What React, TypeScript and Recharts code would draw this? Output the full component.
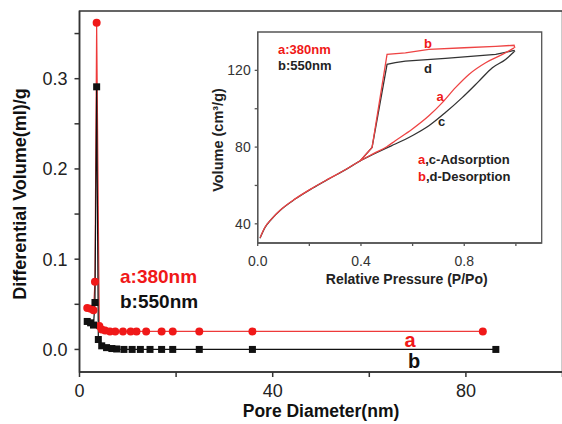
import React from 'react';
import { LineChart, Line, XAxis, YAxis, ReferenceArea } from 'recharts';

// Main chart: pore size distribution
const poreA_x = [1.6, 2.3, 2.9, 3.2, 3.55, 4.1, 4.6, 5.3, 6.3, 7.4, 9.0, 10.6, 11.8, 13.8, 17.0, 19.3, 24.8, 35.8, 83.5];
const poreA_y = [0.046, 0.045, 0.0435, 0.075, 0.362, 0.026, 0.022, 0.021, 0.02, 0.02, 0.02, 0.02, 0.02, 0.02, 0.02, 0.02, 0.02, 0.02, 0.02];
const poreB_x = [1.6, 2.3, 2.9, 3.2, 3.55, 3.9, 4.6, 5.6, 6.7, 7.7, 9.2, 10.9, 12.6, 14.6, 17.0, 19.3, 24.8, 35.8, 86.2];
const poreB_y = [0.031, 0.0295, 0.027, 0.052, 0.291, 0.011, 0.004, 0.002, 0.001, 0.0005, 0, 0, 0, 0, 0, 0, 0, 0, 0];

const mainXTicks = [0, 20, 40, 60, 80, 100];
const mainXLabels = [0, 40, 80];
const mainYTicks = [0, 0.05, 0.1, 0.15, 0.2, 0.25, 0.3, 0.35];
const mainYLabels = [0, 0.1, 0.2, 0.3];

// Inset: N2 isotherms
const adsA_x = [0.009, 0.028, 0.054, 0.093, 0.145, 0.21, 0.274, 0.339, 0.397, 0.45, 0.5, 0.533, 0.598, 0.663, 0.715, 0.766, 0.818, 0.883, 0.948, 0.993];
const adsA_y = [32.7, 38.2, 42.6, 47.8, 53, 58.5, 63.4, 68.2, 72.9, 76.7, 80.2, 83.3, 89.3, 96.3, 103.2, 111, 117.9, 124, 128.3, 131.7];
const adsC_x = [0.009, 0.028, 0.054, 0.093, 0.145, 0.21, 0.274, 0.339, 0.397, 0.45, 0.5, 0.533, 0.598, 0.663, 0.727, 0.792, 0.857, 0.909, 0.96, 0.993];
const adsC_y = [32.5, 38.0, 42.5, 47.7, 52.9, 58.4, 63.3, 68.1, 72.8, 76.4, 79.6, 81.6, 85.9, 91.1, 98, 105.8, 114.4, 121.4, 125.7, 129.7];
const desB_x = [0.397, 0.443, 0.501, 0.572, 0.663, 0.8, 0.922, 0.993, 0.996];
const desB_y = [72.9, 79.8, 128.3, 129.1, 130.9, 131.8, 132.5, 133.1, 131.7];
const desD_x = [0.397, 0.443, 0.501, 0.533, 0.572, 0.727, 0.922, 0.993, 0.996];
const desD_y = [72.8, 79.8, 123.1, 124, 124.8, 126.2, 128.3, 130.4, 129.7];

const insetXTicks = [0, 0.2, 0.4, 0.6, 0.8, 1.0];
const insetXLabels = [0, 0.4, 0.8];
const insetYTicks = [40, 60, 80, 100, 120];
const insetYLabels = [40, 80, 120];

const zip = (xs: number[], ys: number[]) => xs.map((x, i) => ({ x, y: ys[i] }));

const dataA = zip(poreA_x, poreA_y);
const dataB = zip(poreB_x, poreB_y);
const dA = zip(adsA_x, adsA_y);
const dC = zip(adsC_x, adsC_y);
const dB = zip(desB_x, desB_y);
const dD = zip(desD_x, desD_y);

const RED = '#f01818';
const RED_LINE = '#ee3a3a';
const BLACK = '#111111';
const FONT = '"Liberation Sans", Arial, sans-serif';

const near = (arr: number[], v: number) => arr.some((a) => Math.abs(a - v) < 1e-9);

const circleDot = (props: any) => {
  const { cx, cy, index } = props;
  if (cx == null || cy == null) return <g key={`c${index}`} />;
  return <circle key={`c${index}`} cx={cx} cy={cy} r={4} fill={RED} stroke="none" />;
};
const squareDot = (props: any) => {
  const { cx, cy, index } = props;
  if (cx == null || cy == null) return <g key={`s${index}`} />;
  return <rect key={`s${index}`} x={cx - 3.5} y={cy - 3.5} width={7} height={7} fill={BLACK} stroke="none" />;
};

export default function App() {
  return (
    <div style={{ position: 'absolute', left: 0, top: 0, width: 562, height: 424, overflow: 'hidden', background: '#fff', fontFamily: FONT }}>
      <div style={{ position: 'absolute', left: 0, top: 0 }}>
        <LineChart width={566} height={424} margin={{ top: 11, right: 3.5, left: 19.5, bottom: 22 }}>
          <XAxis
            dataKey="x"
            type="number"
            domain={[0, 100]}
            ticks={mainXTicks}
            allowDataOverflow
            tickFormatter={(v: number) => (near(mainXLabels, v) ? String(v) : '')}
            height={30}
            tickSize={5}
            tickMargin={7}
            stroke="#333"
            strokeWidth={1.5}
            tick={{ fill: '#222', fontSize: 18, fontFamily: FONT }}
          />
          <YAxis
            dataKey="y"
            type="number"
            domain={[-0.025, 0.375]}
            ticks={mainYTicks}
            allowDataOverflow
            tickFormatter={(v: number) => (near(mainYLabels, v) ? v.toFixed(1) : '')}
            width={60}
            tickSize={5}
            tickMargin={7}
            stroke="#333"
            strokeWidth={1.5}
            tick={{ fill: '#222', fontSize: 18, fontFamily: FONT }}
          />
          <ReferenceArea x1={0} x2={100} y1={-0.025} y2={0.375} fill="none" stroke="#333" strokeWidth={1.5} />
          <Line data={dataA} dataKey="y" type="linear" stroke={RED_LINE} strokeWidth={1.2} dot={circleDot} isAnimationActive={false} />
          <Line data={dataB} dataKey="y" type="linear" stroke={BLACK} strokeWidth={1.2} dot={squareDot} isAnimationActive={false} />
        </LineChart>
      </div>

      <div style={{ position: 'absolute', left: 200, top: 20, width: 345, height: 270, background: '#fff' }}>
        <LineChart width={345} height={270} margin={{ top: 12, right: 3.3, left: 12.7, bottom: 22 }}>
          <XAxis
            dataKey="x"
            type="number"
            domain={[0, 1.1]}
            ticks={insetXTicks}
            allowDataOverflow
            tickFormatter={(v: number) => (near(insetXLabels, v) ? v.toFixed(1) : '')}
            height={25}
            tickSize={3}
            tickMargin={10}
            stroke="#555"
            strokeWidth={1.3}
            tick={{ fill: '#333', fontSize: 14, fontFamily: FONT }}
          />
          <YAxis
            dataKey="y"
            type="number"
            domain={[30, 140]}
            ticks={insetYTicks}
            allowDataOverflow
            tickFormatter={(v: number) => (near(insetYLabels, v) ? String(v) : '')}
            width={45}
            tickSize={3}
            tickMargin={4}
            stroke="#555"
            strokeWidth={1.3}
            tick={{ fill: '#333', fontSize: 14, fontFamily: FONT }}
          />
          <ReferenceArea x1={0} x2={1.1} y1={30} y2={140} fill="none" stroke="#555" strokeWidth={1.3} />
          <Line data={dC} dataKey="y" type="monotone" stroke="#333" strokeWidth={1.3} dot={false} isAnimationActive={false} />
          <Line data={dD} dataKey="y" type="linear" stroke="#333" strokeWidth={1.3} dot={false} isAnimationActive={false} />
          <Line data={dA} dataKey="y" type="monotone" stroke="#ee4444" strokeWidth={1.3} dot={false} isAnimationActive={false} />
          <Line data={dB} dataKey="y" type="linear" stroke="#ee4444" strokeWidth={1.3} dot={false} isAnimationActive={false} />
        </LineChart>
      </div>

      <svg width={562} height={424} style={{ position: 'absolute', left: 0, top: 0, pointerEvents: 'none' }} fontFamily={FONT} fontWeight="bold">
        {/* main axis titles */}
        <text transform="translate(20,194) rotate(-90)" textAnchor="middle" dominantBaseline="central" fontSize={18} fill="#111">
          Differential Volume(ml)/g
        </text>
        <text x={321} y={417} textAnchor="middle" fontSize={17.5} fill="#111">Pore Diameter(nm)</text>
        {/* main legend */}
        <text x={120} y={283} fontSize={19} fill={RED}>a:380nm</text>
        <text x={120} y={308} fontSize={19} fill="#111">b:550nm</text>
        <text x={410} y={347} textAnchor="middle" fontSize={20} fill={RED}>a</text>
        <text x={414} y={368} textAnchor="middle" fontSize={20} fill="#111">b</text>

        {/* inset texts */}
        <text x={278} y={54} fontSize={13} fill={RED}>a:380nm</text>
        <text x={278} y={70} fontSize={13} fill="#222">b:550nm</text>
        <text x={428} y={47.5} textAnchor="middle" fontSize={13} fill={RED}>b</text>
        <text x={428} y={73} textAnchor="middle" fontSize={13} fill="#222">d</text>
        <text x={440} y={101} textAnchor="middle" fontSize={13} fill={RED}>a</text>
        <text x={441.5} y={126} textAnchor="middle" fontSize={13} fill="#222">c</text>
        <text x={418} y={164} fontSize={13} fill="#222">
          <tspan fill={RED}>a</tspan>,c-Adsorption
        </text>
        <text x={418} y={181} fontSize={13} fill="#222">
          <tspan fill={RED}>b</tspan>,d-Desorption
        </text>
        <text transform="translate(218,140) rotate(-90)" textAnchor="middle" dominantBaseline="central" fontSize={14.5} fill="#222">
          Volume (cm³/g)
        </text>
        <text x={406.7} y={284} textAnchor="middle" fontSize={14} fill="#222">Relative Pressure (P/Po)</text>
      </svg>
    </div>
  );
}
